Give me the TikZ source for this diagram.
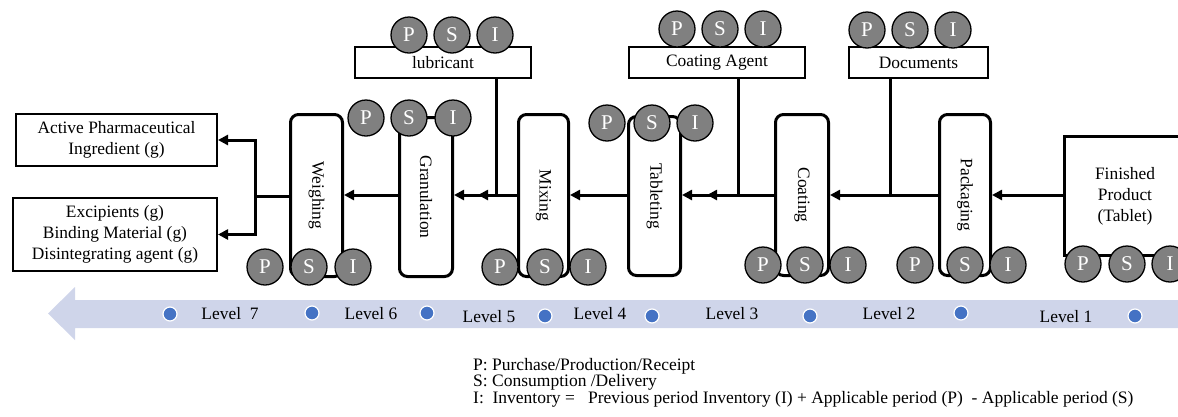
\documentclass[tikz,border=0pt]{standalone}
\usepackage{fontspec}
\setmainfont{Liberation Serif}
\usepackage{graphicx}
\usetikzlibrary{arrows.meta}
\definecolor{psigray}{RGB}{128,128,128}
\definecolor{levelband}{RGB}{207,213,234}
\definecolor{leveldot}{RGB}{68,114,196}
% three P/S/I circles in a row
\newcommand\psirow[5]{%
  \node[psi] (#1P) at (#2,#5) {P};
  \node[psi] (#1S) at (#3,#5) {S};
  \node[psi] (#1I) at (#4,#5) {I};}
\begin{document}
\begin{tikzpicture}[x=1pt,y=-1pt,
  txt/.style={font=\fontsize{17.4}{21}\selectfont},
  stage/.style={draw, line width=3pt, rounded corners=8pt, inner sep=0pt, txt},
  inbox/.style={draw, line width=2pt, inner sep=0pt, align=center, txt},
  psi/.style={circle, draw=black, line width=1.3pt, fill=psigray, minimum size=36pt,
    inner sep=0pt, text=white, font=\fontsize{21}{21}\selectfont},
  flow/.style={line width=3pt, -{Triangle[length=10pt,width=10pt]}},
  feed/.style={line width=3pt},
  lvl/.style={txt, inner sep=0pt},
  lvldot/.style={circle, fill=leveldot, draw=white, line width=1.2pt, minimum size=14pt, inner sep=0pt},
  legtxt/.style={anchor=base west, inner sep=0pt, font=\fontsize{17.5}{17.5}\selectfont},
]
\useasboundingbox (0,0) rectangle (1178,416);

% level band (arrow pointing left)
\fill[levelband] (1178,300) -- (75,300) -- (75,287) -- (48,313.5) -- (75,340)
  -- (75,328) -- (1178,328) -- cycle;

% raw material boxes
\node[inbox, minimum width=201pt, minimum height=52pt] (api) at (116.5,140)
  {Active Pharmaceutical\\Ingredient (g)};
\node[inbox, minimum width=204pt, minimum height=73pt] (exc) at (115,234.5)
  {Excipients (g)\\Binding Material (g)\\Disintegrating agent (g)};

% supplementary material boxes
\node[inbox, minimum width=176pt, minimum height=31pt] (lub) at (443,62.5) {lubricant};
\node[inbox, minimum width=176pt, minimum height=31pt] (cag) at (717,62.5) {Coating Agent};
\node[inbox, minimum width=139pt, minimum height=31pt] (doc) at (918.5,62.5) {Documents};

% process stages
\node[stage, minimum width=52pt, minimum height=162pt] (weigh) at (316.5,195.5) {\rotatebox{-90}{Weighing}};
\node[stage, minimum width=53pt, minimum height=159pt] (gran) at (426,197) {\rotatebox{-90}{Granulation}};
\node[stage, minimum width=50pt, minimum height=162pt] (mix) at (543.5,195.5) {\rotatebox{-90}{Mixing}};
\node[stage, minimum width=52pt, minimum height=159pt] (tab) at (654.5,196) {\rotatebox{-90}{Tableting}};
\node[stage, minimum width=53pt, minimum height=161pt] (coat) at (802,195) {\rotatebox{-90}{Coating}};
\node[stage, minimum width=51pt, minimum height=161pt] (pack) at (965,195) {\rotatebox{-90}{Packaging}};

% finished product (open to the right)
\node[txt, align=center, minimum width=120pt, minimum height=118pt, inner sep=0pt] (fin) at (1125,196)
  {Finished\\Product\\(Tablet)};
\draw[line width=3pt] (fin.north east) -- (fin.north west) -- (fin.south west) -- (fin.south east);

% material flow
\coordinate (row) at (0,195);
\draw[flow] (fin.west |- row) -- (pack.east |- row);
\draw[flow] (pack.west |- row) -- (coat.east |- row);
\draw[flow] (coat.west |- row) -- (tab.east |- row);
\draw[flow] (tab.west |- row) -- (mix.east |- row);
\draw[flow] (mix.west |- row) -- (gran.east |- row);
\draw[flow] (gran.west |- row) -- (weigh.east |- row);

% supplementary feeds
\coordinate (docin) at (890,195);
\draw[feed] (doc.south -| docin) -- (docin);
\coordinate (cagin) at (738,195);
\coordinate (cagtip) at (707,195);
\draw[flow] (cag.south -| cagin) |- (cagtip);
\coordinate (lubin) at (496,195);
\coordinate (lubtip) at (478,195);
\draw[flow] (lub.south -| lubin) |- (lubtip);

% split to raw materials
\coordinate (split) at (255,196);
\draw[feed] (weigh.west |- split) -- (split);
\draw[flow] (split) |- (api.east);
\draw[flow] (split) |- (exc.east);

% P/S/I markers
\psirow{w}{265}{309}{353}{267}
\psirow{g}{366}{409}{453}{118}
\psirow{l}{409}{452}{495}{35}
\psirow{m}{500}{545}{588}{267}
\psirow{t}{607}{652}{695}{123}
\psirow{c}{763}{805}{848}{265}
\psirow{a}{677}{720}{763}{29}
\psirow{d}{867}{910}{953}{30}
\psirow{p}{915}{965}{1008}{265}
\psirow{f}{1083}{1127}{1170}{264}

% levels
\node[lvldot] (d1) at (170,314) {};
\node[lvldot] (d2) at (312,313) {};
\node[lvldot] (d3) at (427,313) {};
\node[lvldot] (d4) at (545,316) {};
\node[lvldot] (d5) at (652,316) {};
\node[lvldot] (d6) at (810,316) {};
\node[lvldot] (d7) at (961,313) {};
\node[lvldot] (d8) at (1135,316) {};
\node[lvl] (lv7) at (230,314) {Level\ \ 7};
\node[lvl] (lv6) at (371,314) {Level 6};
\node[lvl] (lv5) at (489,317) {Level 5};
\node[lvl] (lv4) at (600,314) {Level 4};
\node[lvl] (lv3) at (732,314) {Level 3};
\node[lvl] (lv2) at (889,314) {Level 2};
\node[lvl] (lv1) at (1066,317) {Level 1};

% legend
\node[legtxt] (leg1) at (473,370) {P: Purchase/Production/Receipt};
\node[legtxt] (leg2) at (473,386) {S: Consumption /Delivery};
\node[legtxt] (leg3) at (473,403) {I:\ \ Inventory =\ \ \ Previous period Inventory (I) + Applicable period (P)\ \ - Applicable period (S)};
\end{tikzpicture}
\end{document}
